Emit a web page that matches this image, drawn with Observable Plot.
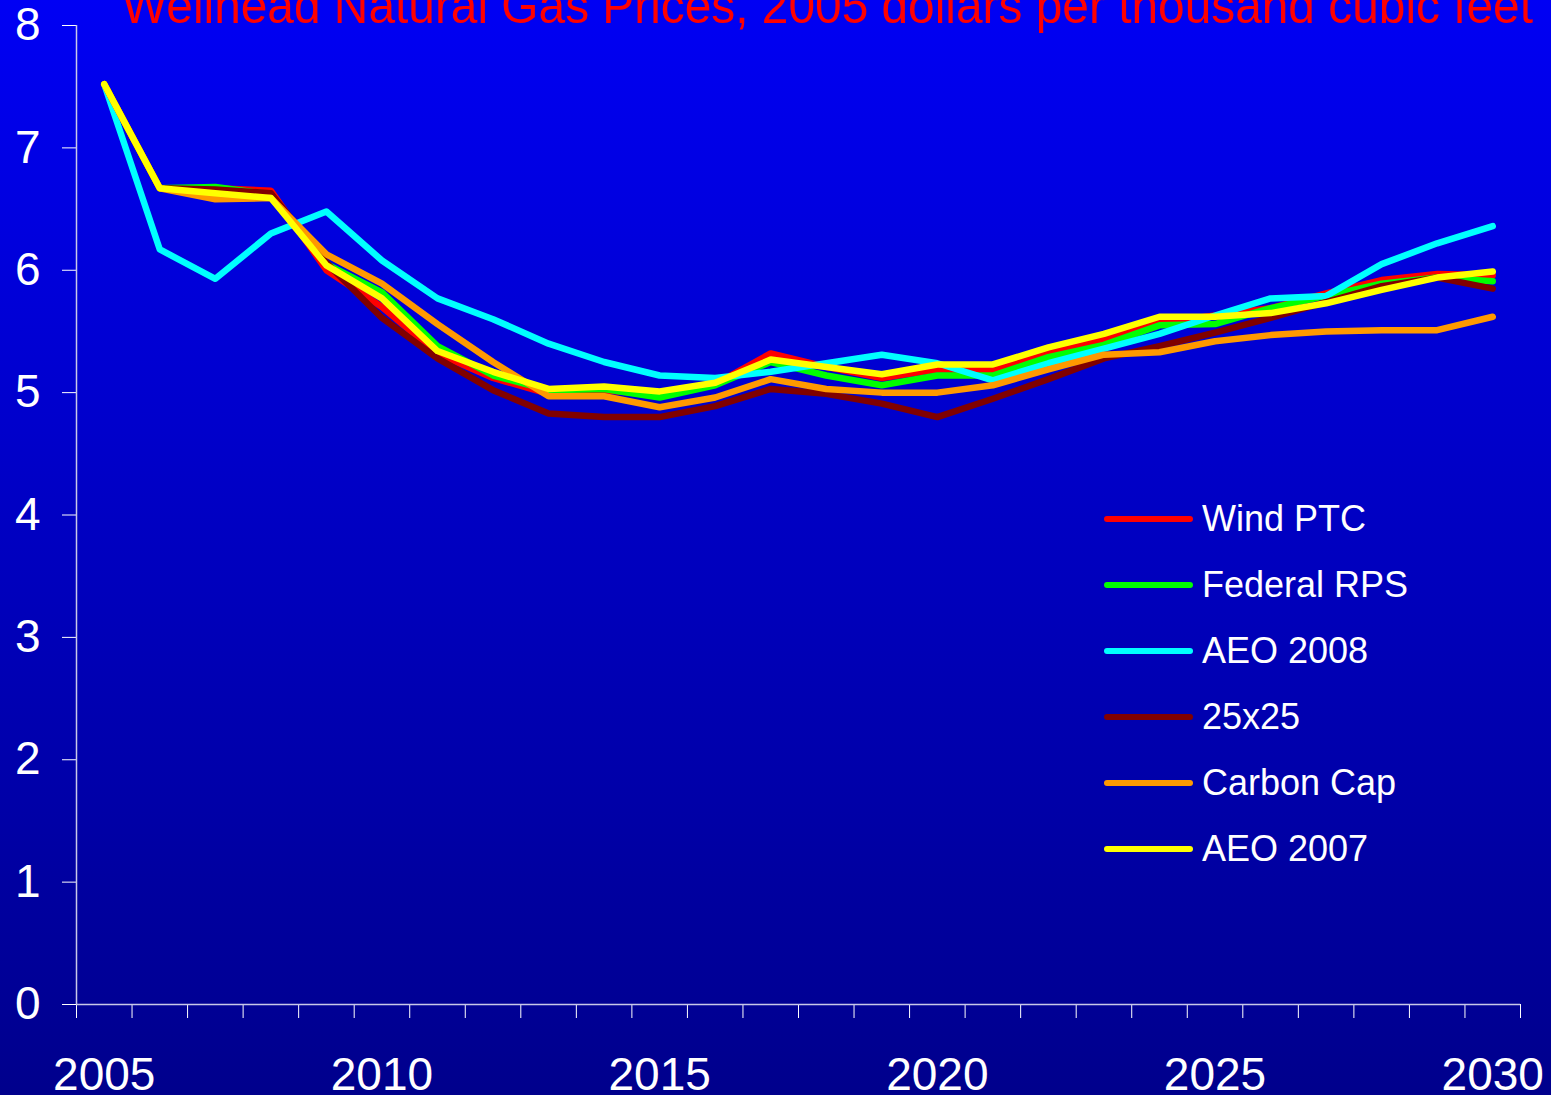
<!DOCTYPE html>
<html><head><meta charset="utf-8">
<script src="https://cdn.jsdelivr.net/npm/d3@7"></script>
<script src="https://cdn.jsdelivr.net/npm/@observablehq/plot@0.6"></script>
<style>
html,body{margin:0;padding:0;width:1551px;height:1095px;overflow:hidden;}
body{background:linear-gradient(to bottom, rgb(0,0,244) 0%, rgb(0,0,140) 100%);font-family:"Liberation Sans",Arial,sans-serif;}
#wrap{position:relative;width:1551px;height:1095px;}
#chart{position:absolute;left:0;top:0;}
#title{position:absolute;left:0;top:0;}
#legend{position:absolute;left:1104px;top:486px;}
.row{height:66px;display:flex;align-items:center;}
.sw{width:89px;height:6px;border-radius:3px;margin-right:9px;}
.lab{color:white;font-size:36px;line-height:36px;}
</style></head>
<body><div id="wrap"><div id="chart"></div><svg id="title" width="1551" height="60"></svg><div id="legend"></div></div>
<script>
const titleText = "Wellhead Natural Gas Prices, 2005 dollars per thousand cubic feet";
const years = [2005,2006,2007,2008,2009,2010,2011,2012,2013,2014,2015,2016,2017,2018,2019,2020,2021,2022,2023,2024,2025,2026,2027,2028,2029,2030];
const xLabelYears = [2005,2010,2015,2020,2025,2030];
const yTicks = [0,1,2,3,4,5,6,7,8];
const seriesNames = ["Wind PTC","Federal RPS","AEO 2008","25x25","Carbon Cap","AEO 2007"];
const seriesColors = ["#ff0000","#00ff00","#00ffff","#800000","#ff9900","#ffff00"];

const windPTC    = [7.52,6.67,6.67,6.65,6.00,5.70,5.32,5.12,4.99,5.02,4.98,5.07,5.32,5.21,5.12,5.19,5.18,5.33,5.43,5.57,5.63,5.69,5.81,5.92,5.97,5.96];
const federalRPS = [7.52,6.67,6.68,6.62,6.05,5.82,5.38,5.14,5.02,5.03,4.96,5.06,5.25,5.14,5.06,5.14,5.14,5.29,5.39,5.55,5.56,5.69,5.79,5.89,5.94,5.91];
const aeo2008    = [7.52,6.17,5.93,6.30,6.48,6.08,5.77,5.60,5.40,5.25,5.14,5.12,5.17,5.24,5.31,5.24,5.10,5.24,5.36,5.48,5.63,5.77,5.79,6.05,6.22,6.36];
const s25x25     = [7.52,6.67,6.66,6.63,6.06,5.61,5.28,5.02,4.83,4.80,4.80,4.89,5.03,4.99,4.91,4.80,4.95,5.11,5.28,5.38,5.49,5.61,5.74,5.87,5.94,5.85];
const carbonCap  = [7.52,6.67,6.58,6.59,6.13,5.89,5.56,5.25,4.97,4.97,4.88,4.96,5.11,5.03,5.00,5.00,5.06,5.19,5.31,5.33,5.42,5.47,5.50,5.51,5.51,5.62];
const aeo2007    = [7.52,6.67,6.63,6.59,6.04,5.77,5.34,5.17,5.03,5.05,5.01,5.08,5.27,5.21,5.15,5.23,5.23,5.37,5.48,5.62,5.62,5.65,5.73,5.84,5.94,5.99];

const seriesValues = [windPTC, federalRPS, aeo2008, s25x25, carbonCap, aeo2007];
const data = seriesNames.flatMap((name, i) => years.map((yr, j) => ({series: name, year: yr, value: seriesValues[i][j]})));

const xDomain = [years[0] - 0.5, years[years.length - 1] + 0.5];
const boundaries = years.map(y => y - 0.5).concat([xDomain[1]]);
const axisColor = "#c8c8e8";

const chart = Plot.plot({
  width: 1551, height: 1095,
  marginLeft: 76, marginRight: 31, marginTop: 25, marginBottom: 91,
  style: {background: "transparent", color: "white", fontFamily: "'Liberation Sans', Arial, sans-serif", overflow: "visible"},
  x: {domain: xDomain, axis: null, label: null},
  y: {domain: [yTicks[0], yTicks[yTicks.length - 1]], axis: null, label: null},
  color: {domain: seriesNames, range: seriesColors},
  marks: [
    Plot.axisY({ticks: yTicks, label: null, tickSize: 14, tickPadding: 22, fontSize: 46, stroke: "white", fill: "white", tickFormat: d => String(d)}),
    Plot.axisX({ticks: boundaries, label: null, tickSize: 14, stroke: "white", tickFormat: () => ""}),
    Plot.axisX({ticks: xLabelYears, label: null, tickSize: 0, tickPadding: 53, fontSize: 46, fill: "white", tickFormat: d => String(d)}),
    Plot.ruleX([xDomain[0]], {stroke: axisColor, strokeWidth: 1.5}),
    Plot.ruleY([yTicks[0]], {stroke: axisColor, strokeWidth: 1.5}),
    Plot.line(data, {x: "year", y: "value", z: "series", stroke: "series", strokeWidth: 6.5, strokeLinecap: "round", strokeLinejoin: "round"})
  ]
});
document.getElementById("chart").appendChild(chart);

// Title
const tsvg = d3.select("#title");
tsvg.append("text")
  .attr("x", 122).attr("y", 23)
  .attr("font-family", "'Liberation Sans Narrow','Liberation Sans',Arial,sans-serif")
  .attr("font-size", 50)
  .attr("fill", "#ff0000")
  .attr("textLength", 1411)
  .attr("lengthAdjust", "spacingAndGlyphs")
  .text(titleText);

// Legend
const legend = d3.select("#legend");
seriesNames.forEach((name, i) => {
  const row = legend.append("div").attr("class", "row");
  row.append("div").attr("class", "sw").style("background", seriesColors[i]);
  row.append("div").attr("class", "lab").text(name);
});
</script>
</body></html>
